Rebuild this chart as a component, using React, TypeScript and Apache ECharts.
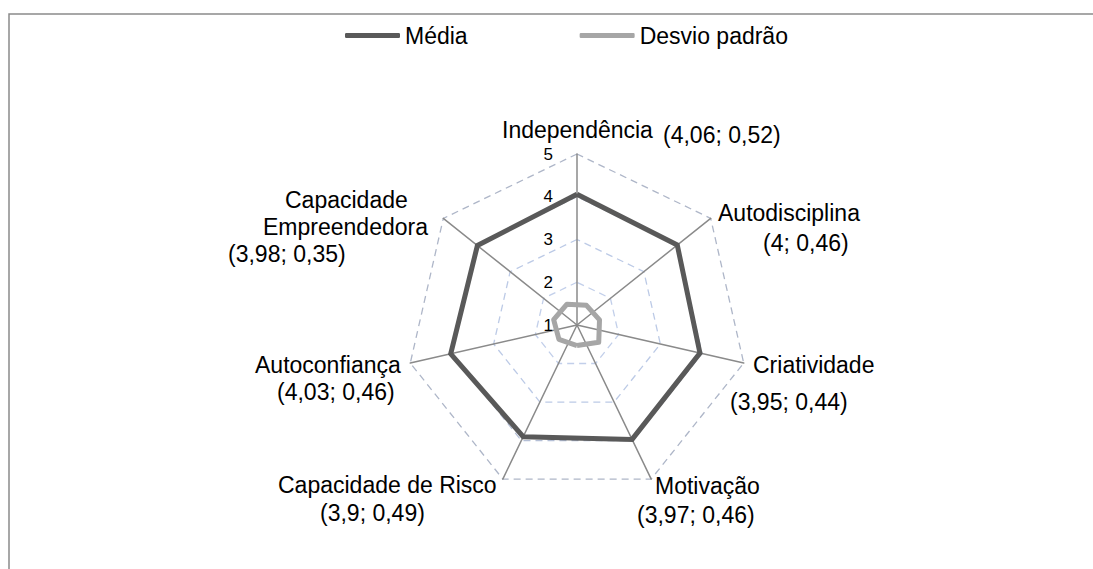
import React, { useEffect, useRef } from 'react';
import * as echarts from 'echarts';

// ---- data (clockwise from the top) ----
const CATEGORIES = [
  'Independência',
  'Autodisciplina',
  'Criatividade',
  'Motivação',
  'Capacidade de Risco',
  'Autoconfiança',
  'Capacidade\nEmpreendedora',
];
const MEDIA = [4.06, 4, 3.95, 3.97, 3.9, 4.03, 3.98];
const DESVIO = [0.52, 0.46, 0.44, 0.46, 0.49, 0.46, 0.35];
const SERIES_NAMES = ['Média', 'Desvio padrão'];
const SCALE_MIN = 1;
const SCALE_MAX = 5;

// ---- layout / style ----
const CX = 577;
const CY = 325;
const R = 171;
const NAME_GAP = 20;
const FS = 23;
const FAMILY = '"Liberation Sans", Arial, sans-serif';
// each label row: [left x, centre y]
const LABEL_ROWS: [number, number][][] = [
  [[502, 130], [663, 135]],
  [[718, 213], [763, 243]],
  [[753, 365], [730, 402]],
  [[655, 486], [637, 515]],
  [[278, 485], [320, 513]],
  [[255, 365], [277, 392]],
  [[285, 200], [263, 227], [228, 254]],
];

const fmt = (v: number) => String(v).replace('.', ',');

function buildLabels() {
  const canvas = document.createElement('canvas');
  const ctx = canvas.getContext('2d')!;
  ctx.font = `${FS}px ${FAMILY}`;
  const rich: Record<string, any> = {};
  const strings: string[] = CATEGORIES.map((cat, i) => {
    const texts = [...cat.split('\n'), `(${fmt(MEDIA[i])}; ${fmt(DESVIO[i])})`];
    const pos = LABEL_ROWS[i];
    const th = (i * 2 * Math.PI) / CATEGORIES.length;
    const ax = CX + (R + NAME_GAP) * Math.sin(th);
    const ay = CY - (R + NAME_GAP) * Math.cos(th);
    const widths = texts.map((t) => ctx.measureText(t).width);
    const lefts = pos.map((p) => p[0]);
    const cys = pos.map((p) => p[1]);
    const halfW =
      Math.max(
        ...lefts.map((l) => ax - l),
        ...lefts.map((l, j) => l + widths[j] - ax)
      ) + 1;
    const boxLeft = ax - halfW;
    const n = texts.length;
    const hs: number[] = [];
    hs[0] = n > 1 ? cys[1] - cys[0] : 26;
    for (let j = 1; j < n; j++) hs[j] = Math.max(0, 2 * (cys[j] - cys[j - 1]) - hs[j - 1]);
    const A = cys[0] - hs[0] / 2;
    const B = cys[n - 1] + hs[n - 1] / 2;
    const half = Math.max(ay - A, B - ay);
    const top = A - (ay - half);
    const bottom = ay + half - B;
    const parts: string[] = [];
    if (top > 0.01) {
      rich[`t${i}`] = { lineHeight: top, fontSize: 1 };
      parts.push(`{t${i}| }`);
    }
    texts.forEach((t, j) => {
      const pl = lefts[j] - boxLeft;
      const pr = Math.max(0, 2 * halfW - pl - widths[j]);
      rich[`r${i}x${j}`] = {
        fontSize: FS,
        fontFamily: FAMILY,
        color: '#000',
        lineHeight: hs[j],
        align: 'left',
        padding: [0, pr, 0, pl],
      };
      parts.push(`{r${i}x${j}|${t}}`);
    });
    if (bottom > 0.01) {
      rich[`b${i}`] = { lineHeight: bottom, fontSize: 1 };
      parts.push(`{b${i}| }`);
    }
    return parts.join('\n');
  });
  return { rich, strings };
}

export default function App() {
  const ref = useRef<HTMLDivElement>(null);
  useEffect(() => {
    document.body.style.margin = '0';
    if (!ref.current) return;
    const chart = echarts.init(ref.current, undefined, { renderer: 'svg' });
    const { rich, strings } = buildLabels();
    // ECharts places indicators counter-clockwise: keep the first, reverse the rest
    const order = [0, ...CATEGORIES.map((_, i) => i).slice(1).reverse()];
    const indicator = order.map((i, k) => {
      const ind: any = {
        name: CATEGORIES[i],
        min: SCALE_MIN,
        max: SCALE_MAX,
        nameMoveOverlap: false,
      };
      if (k === 0) {
        ind.axisLabel = {
          show: true,
          color: '#000',
          fontSize: 17,
          fontFamily: FAMILY,
          margin: 24,
        };
      }
      return ind;
    });
    const option: any = {
      animation: false,
      backgroundColor: '#ffffff',
      legend: {
        left: 345,
        top: 24,
        padding: 0,
        itemWidth: 55,
        itemHeight: 5,
        itemGap: 112,
        icon: 'roundRect',
        textStyle: { fontSize: FS, fontFamily: FAMILY, color: '#000' },
        data: SERIES_NAMES,
      },
      graphic: [
        {
          type: 'rect',
          silent: true,
          z: -10,
          shape: { x: 9, y: 14, width: 1300, height: 800 },
          style: { fill: 'none', stroke: '#8a8a8a', lineWidth: 1.5 },
        },
      ],
      radar: {
        center: [CX, CY],
        radius: R,
        startAngle: 90,
        splitNumber: 4,
        shape: 'polygon',
        axisNameGap: NAME_GAP,
        indicator,
        axisName: {
          color: '#000',
          fontSize: FS,
          fontFamily: FAMILY,
          align: 'center',
          verticalAlign: 'middle',
          rich,
          formatter: (name: string) => strings[CATEGORIES.indexOf(name)],
        },
        axisLine: { lineStyle: { color: '#8a8a8a', width: 1.5 } },
        axisTick: { show: false },
        axisLabel: { show: false },
        splitArea: { show: false },
        splitLine: {
          lineStyle: {
            color: ['#c2cfea', '#c2cfea', '#bccae6', '#b4bfd6', '#aeb6c8'],
            width: 1.3,
            type: [7, 5],
          },
        },
      },
      series: [
        {
          type: 'radar',
          name: SERIES_NAMES[0],
          symbol: 'none',
          lineStyle: { color: '#595959', width: 5, join: 'miter' },
          itemStyle: { color: '#595959' },
          data: [{ name: SERIES_NAMES[0], value: order.map((i) => MEDIA[i]) }],
        },
        {
          type: 'radar',
          name: SERIES_NAMES[1],
          symbol: 'none',
          lineStyle: { color: '#a6a6a6', width: 5, join: 'round' },
          itemStyle: { color: '#a6a6a6' },
          data: [{ name: SERIES_NAMES[1], value: order.map((i) => DESVIO[i]) }],
        },
      ],
    };
    chart.setOption(option);
    return () => chart.dispose();
  }, []);
  return <div ref={ref} style={{ width: 1093, height: 569 }} />;
}
